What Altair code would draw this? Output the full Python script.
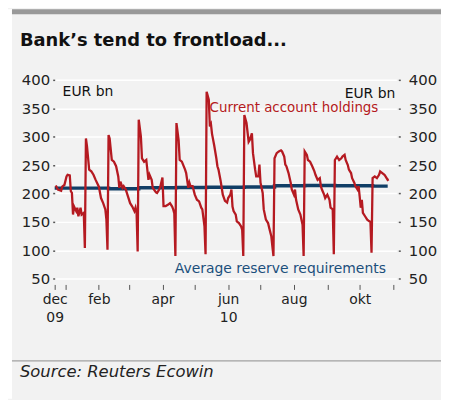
import altair as alt
import pandas as pd

# ---- Current account holdings (EUR bn) ----
ca_dates = [
    "2009-12-23", "2009-12-25", "2009-12-28", "2009-12-29", "2009-12-31",
    "2010-01-02", "2010-01-03", "2010-01-05", "2010-01-06", "2010-01-07",
    "2010-01-08", "2010-01-09", "2010-01-11", "2010-01-12", "2010-01-13",
    "2010-01-15", "2010-01-16", "2010-01-18", "2010-01-19", "2010-01-20",
    "2010-01-21", "2010-01-23", "2010-01-25", "2010-01-27", "2010-01-29",
    "2010-02-01", "2010-02-03", "2010-02-05", "2010-02-07", "2010-02-08",
    "2010-02-09", "2010-02-10", "2010-02-11", "2010-02-13", "2010-02-15",
    "2010-02-17", "2010-02-19", "2010-02-20", "2010-02-21", "2010-02-23",
    "2010-02-24", "2010-02-26", "2010-02-28", "2010-03-02", "2010-03-04",
    "2010-03-06", "2010-03-07", "2010-03-08", "2010-03-09", "2010-03-10",
    "2010-03-12", "2010-03-13", "2010-03-15", "2010-03-17", "2010-03-19",
    "2010-03-20", "2010-03-22", "2010-03-23", "2010-03-26", "2010-03-27",
    "2010-03-29", "2010-03-30", "2010-04-01", "2010-04-02", "2010-04-04",
    "2010-04-06", "2010-04-08", "2010-04-10", "2010-04-11", "2010-04-12",
    "2010-04-13", "2010-04-14", "2010-04-16", "2010-04-17", "2010-04-19",
    "2010-04-22", "2010-04-23", "2010-04-25", "2010-04-26", "2010-04-27",
    "2010-04-29", "2010-05-01", "2010-05-03", "2010-05-05", "2010-05-07",
    "2010-05-08", "2010-05-10", "2010-05-11", "2010-05-12", "2010-05-14",
    "2010-05-15", "2010-05-16", "2010-05-17", "2010-05-19", "2010-05-21",
    "2010-05-22", "2010-05-23", "2010-05-25", "2010-05-27", "2010-05-29",
    "2010-05-31", "2010-06-01", "2010-06-03", "2010-06-04", "2010-06-05",
    "2010-06-06", "2010-06-08", "2010-06-09", "2010-06-11", "2010-06-13",
    "2010-06-14", "2010-06-15", "2010-06-16", "2010-06-18", "2010-06-20",
    "2010-06-21", "2010-06-23", "2010-06-24", "2010-06-26", "2010-06-27",
    "2010-06-29", "2010-06-30", "2010-07-01", "2010-07-03", "2010-07-04",
    "2010-07-06", "2010-07-08", "2010-07-09", "2010-07-11", "2010-07-12",
    "2010-07-13", "2010-07-14", "2010-07-16", "2010-07-18", "2010-07-20",
    "2010-07-21", "2010-07-23", "2010-07-24", "2010-07-25", "2010-07-27",
    "2010-07-29", "2010-07-30", "2010-08-01", "2010-08-02", "2010-08-03",
    "2010-08-05", "2010-08-07", "2010-08-08", "2010-08-09", "2010-08-10",
    "2010-08-11", "2010-08-13", "2010-08-14", "2010-08-16", "2010-08-18",
    "2010-08-20", "2010-08-21", "2010-08-23", "2010-08-25", "2010-08-26",
    "2010-08-27", "2010-08-29", "2010-08-30", "2010-08-31", "2010-09-01",
    "2010-09-03", "2010-09-04", "2010-09-06", "2010-09-07", "2010-09-08",
    "2010-09-10", "2010-09-12", "2010-09-14", "2010-09-15", "2010-09-17",
    "2010-09-18", "2010-09-20", "2010-09-21", "2010-09-23", "2010-09-24",
    "2010-09-26", "2010-09-27", "2010-09-29", "2010-09-30", "2010-10-01",
    "2010-10-02", "2010-10-03", "2010-10-04", "2010-10-06", "2010-10-08",
    "2010-10-10", "2010-10-11", "2010-10-12", "2010-10-13", "2010-10-15",
    "2010-10-17", "2010-10-19", "2010-10-20", "2010-10-22", "2010-10-24",
    "2010-10-25", "2010-10-27", "2010-10-28",
]
ca_values = [
    214, 207, 205, 212, 215,
    230, 233, 232, 204, 201,
    163, 177, 169, 175, 160,
    175, 163, 166, 104, 297,
    283, 242, 239, 233, 224,
    212, 192, 183, 172, 154,
    101, 303, 297, 259, 256,
    248, 230, 210, 221, 210,
    213, 207, 195, 183, 177,
    169, 175, 166, 98, 330,
    300, 262, 256, 259, 224,
    233, 224, 210, 202, 201,
    207, 212, 228, 178, 178,
    180, 183, 177, 172, 165,
    90, 324, 294, 259, 256,
    242, 236, 210, 219, 213,
    213, 198, 189, 186, 175,
    172, 142, 93, 379, 365,
    318, 322, 305, 285, 262,
    248, 242, 222, 198, 187,
    184, 192, 198, 207, 177,
    169, 163, 151, 148, 142,
    136, 90, 338, 324, 291,
    294, 306, 271, 242, 230,
    230, 251, 219, 201, 172,
    154, 148, 140, 125, 107,
    90, 262, 271, 274, 276,
    274, 265, 251, 248, 236,
    219, 207, 198, 207, 189,
    172, 163, 154, 145, 90,
    274, 268, 259, 256, 248,
    239, 233, 224, 227, 213,
    207, 198, 192, 195, 198,
    189, 175, 172, 93, 259,
    265, 259, 262, 265, 268,
    259, 250, 242, 236, 227,
    219, 213, 207, 213, 195,
    175, 189, 166, 160, 154,
    151, 150, 96, 227, 230,
    227, 233, 239, 236, 233,
    230, 224, 225,
]

# ---- Average reserve requirements (EUR bn), by maintenance period ----
rr_dates = ["2009-12-22", "2010-01-20", "2010-02-10", "2010-03-10", "2010-04-14",
            "2010-05-12", "2010-06-16", "2010-07-14", "2010-08-11", "2010-09-08",
            "2010-10-13", "2010-10-27"]
rr_values = [209.5, 209.5, 208.5, 210, 210.5, 211, 211.5, 213.5, 214, 213.5, 213, 213]

# ---- Axes ----
x_domain = ["2009-12-22", "2010-11-04"]
tick_dates = ["2009-12-22", "2010-01-01", "2010-02-01", "2010-03-01", "2010-04-01",
              "2010-05-01", "2010-06-01", "2010-07-01", "2010-08-01", "2010-09-01",
              "2010-10-01", "2010-11-01"]
tick_labels = [["dec", "09"], "", "feb", "", "apr", "", ["jun", "10"], "", "aug", "", "okt", ""]
y_ticks = [50, 100, 150, 200, 250, 300, 350, 400]
y_domain = [40, 400]

title_text = "Bank\u2019s tend to frontload..."
source_text = "Source: Reuters Ecowin"
unit_text = "EUR bn"
ca_name = "Current account holdings"
rr_name = "Average reserve requirements"

RED = "#b51a21"
BLUE = "#103e66"
BLUE_TXT = "#1b4f7c"
FONT = "DejaVu Sans"


def dt(s):
    y, m, d = (int(p) for p in s.split("-"))
    return alt.DateTime(year=y, month=m, date=d, utc=True)


def label_expr():
    parts = []
    for d, lab in zip(tick_dates, tick_labels):
        if isinstance(lab, list):
            v = "[" + ",".join("'" + t + "'" for t in lab) + "]"
        else:
            v = "'" + lab + "'"
        parts.append("utcFormat(datum.value, '%Y-%m-%d') == '" + d + "' ? " + v + " : ")
    return "".join(parts) + "''"


ca_df = pd.DataFrame({"date": ca_dates, "value": ca_values})
rr_df = pd.DataFrame({"date": rr_dates, "value": rr_values})

x_enc = alt.X(
    "date:T",
    scale=alt.Scale(type="utc", domain=[dt(x_domain[0]), dt(x_domain[1])]),
    axis=alt.Axis(
        values=[dt(d) for d in tick_dates],
        labelExpr=label_expr(),
        title=None, domain=False, grid=False,
        ticks=True, tickSize=5, tickColor="#555555", tickWidth=1,
        labelFont=FONT, labelFontSize=14, labelColor="#222222",
        labelPadding=3, labelLineHeight=18, labelAngle=0,
        labelAlign="center", labelOverlap=False, labelFlush=False,
    ),
)

y_scale = alt.Scale(domain=y_domain, nice=False, zero=False)

rr_line = alt.Chart(rr_df).mark_line(
    color=BLUE, strokeWidth=3.5, interpolate="step-after"
).encode(
    x=x_enc,
    y=alt.Y("value:Q", scale=y_scale,
            axis=alt.Axis(orient="right", values=y_ticks, title=None, domain=False,
                          grid=False, ticks=True, tickSize=2, tickWidth=1.5,
                          tickColor="#555555", offset=2, labelPadding=8,
                          labelFont=FONT, labelFontSize=15, labelColor="#222222",
                          labelAlign="left")),
)

ca_line = alt.Chart(ca_df).mark_line(
    color=RED, strokeWidth=2.3, interpolate="linear"
).encode(
    x=x_enc,
    y=alt.Y("value:Q", scale=y_scale,
            axis=alt.Axis(orient="left", values=y_ticks, title=None, domain=False,
                          grid=True, gridColor="#ffffff", gridWidth=1.5,
                          ticks=True, tickSize=2, tickWidth=1.5, tickColor="#555555",
                          labelPadding=3, labelFont=FONT, labelFontSize=15,
                          labelColor="#222222")),
)


def text_layer(txt, x, y, size, color, align="left", weight="normal", style="normal"):
    return alt.Chart(pd.DataFrame({"t": [txt]})).mark_text(
        align=align, baseline="alphabetic", font=FONT, fontSize=size,
        color=color, fontWeight=weight, fontStyle=style,
    ).encode(text="t:N", x=alt.value(x), y=alt.value(y))


deco_df = pd.DataFrame({"k": [0]})
left_strip = alt.Chart(deco_df).mark_rect(color="#ffffff").encode(
    x=alt.value(-47), x2=alt.value(-43), y=alt.value(-71), y2=alt.value(321))
top_bar = alt.Chart(deco_df).mark_rect(color="#999999").encode(
    x=alt.value(-43), x2=alt.value(389), y=alt.value(-71), y2=alt.value(-66))
sep_line = alt.Chart(deco_df).mark_rule(color="#8c8c8c", strokeWidth=1).encode(
    x=alt.value(-43), x2=alt.value(389), y=alt.value(283))

chart = alt.layer(
    left_strip, top_bar, sep_line,
    rr_line, ca_line,
    text_layer(title_text, -35, -34, 18, "#111111", weight="bold"),
    text_layer(unit_text, 8, 16, 14, "#111111"),
    text_layer(unit_text, 343, 18, 14, "#111111", align="right"),
    text_layer(ca_name, 156, 32, 13.5, RED),
    text_layer(rr_name, 121, 194, 14, BLUE_TXT),
    text_layer(source_text, -35, 299, 16.5, "#222222", style="italic"),
).resolve_axis(y="independent").properties(
    width=344, height=206,
    autosize=alt.AutoSizeParams(type="none"),
    padding={"left": 47, "top": 71, "right": 45, "bottom": 115},
    background="#f2f2f2",
).configure_view(stroke=None, fill=None)

chart.save("out.html", embed_options={"renderer": "svg", "actions": False})
